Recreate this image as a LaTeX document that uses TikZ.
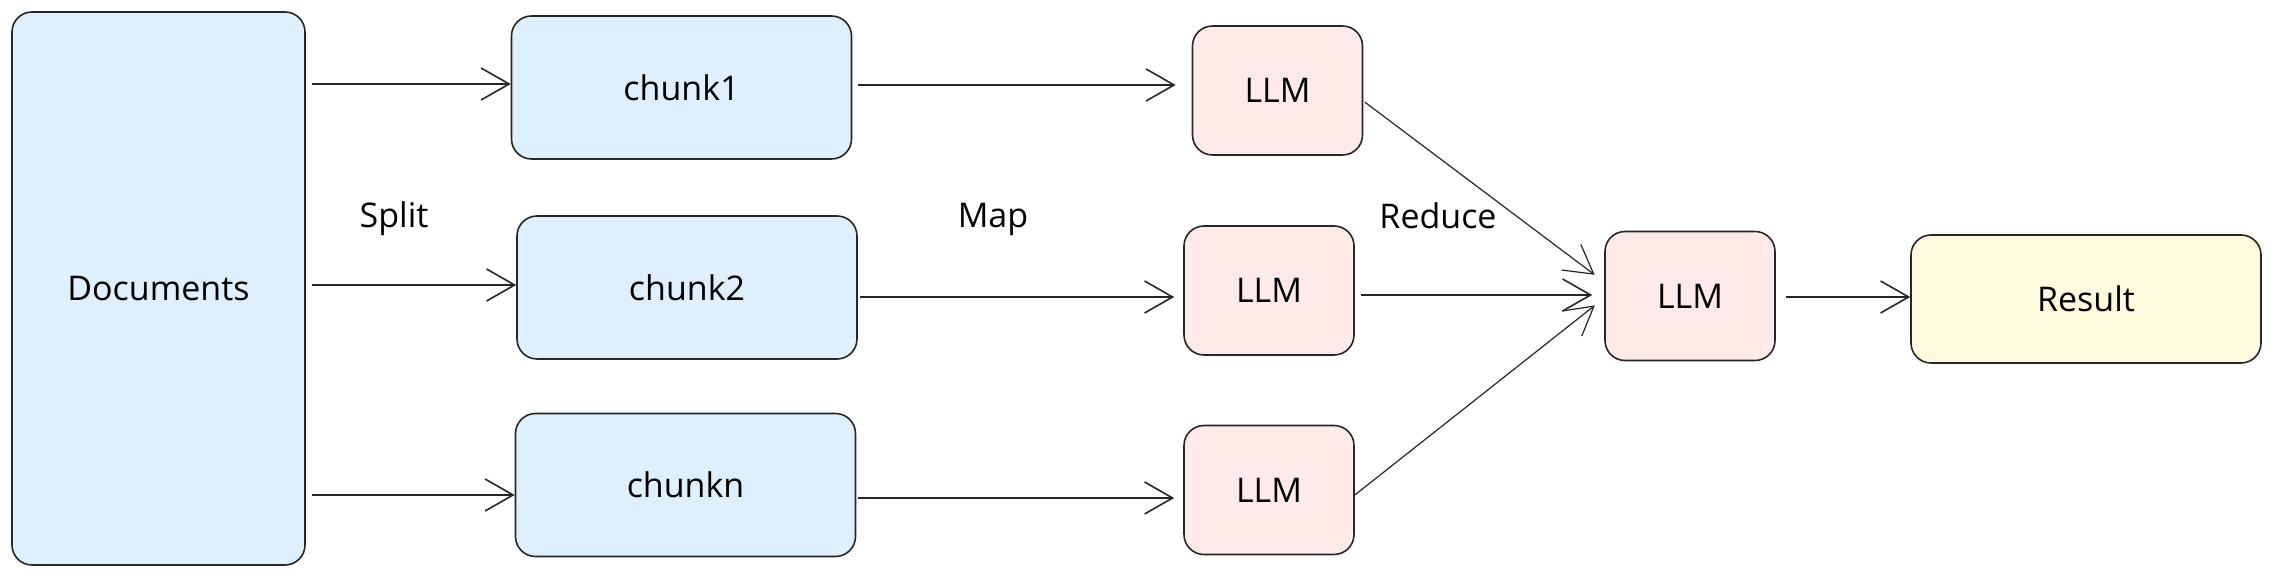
\documentclass[tikz,border=0pt]{standalone}
\usepackage{fontspec}
\setmainfont{Open Sans}
\usepackage{tikz}
\usetikzlibrary{arrows.meta}

\definecolor{docblue}{RGB}{222,240,254}
\definecolor{llmpink}{RGB}{255,234,234}
\definecolor{resyellow}{RGB}{255,249,222}

\begin{document}
\begin{tikzpicture}[x=0.5pt, y=-0.5pt, every node/.style={font=\fontsize{17}{20}\selectfont},
	>={Straight Barb[length=14pt, width=16pt]},
	box/.style={draw=black!85, line width=0.8pt, rounded corners=10pt, align=center, inner sep=0pt},
	chunkbox/.style={box, fill=docblue, minimum width=170pt, minimum height=71.5pt},
	llmbox/.style={box, fill=llmpink, minimum width=85pt, minimum height=64.5pt},
	flow/.style={->, draw=black!85, line width=0.8pt}]
	\useasboundingbox (0,0) rectangle (2270,576);
	% boxes
	\node[box, fill=docblue, minimum width=146.5pt, minimum height=276.5pt] (docs) at (158.5,288.5) {Documents};
	\node[chunkbox] (chunk1) at (681.5,87.5) {chunk1};
	\node[chunkbox] (chunk2) at (687,287.5) {chunk2};
	\node[chunkbox] (chunkn) at (685.5,485) {chunkn};
	\node[llmbox] (llm1) at (1277.5,90.5) {LLM};
	\node[llmbox] (llm2) at (1269,290.5) {LLM};
	\node[llmbox] (llm3) at (1269,490) {LLM};
	\node[llmbox] (llm4) at (1690,296) {LLM};
	\node[box, fill=resyellow, minimum width=175pt, minimum height=64pt] (result) at (2086,299) {Result};
	% labels
	\node (split) at (394,219) {Split};
	\node (map) at (993,219) {Map};
	\node (reduce) at (1438,216) {Reduce};
	% split
	\draw[flow, shorten <=3pt] (docs.east |- 0,84) -- (chunk1.west |- 0,84);
	\draw[flow, shorten <=3pt] (docs.east |- 0,285) -- (chunk2.west |- 0,285);
	\draw[flow, shorten <=3pt] (docs.east |- 0,495) -- (chunkn.west |- 0,495);
	% map
	\draw[flow, shorten <=3pt, shorten >=8pt] (chunk1.east |- 0,85) -- (llm1.west |- 0,85);
	\draw[flow, shorten <=1pt, shorten >=4.5pt] (chunk2.east |- 0,297) -- (llm2.west |- 0,297);
	\draw[flow, shorten <=1pt, shorten >=4.5pt] (chunkn.east |- 0,498) -- (llm3.west |- 0,498);
	% reduce
	\draw[flow, line width=0.6pt, shorten <=1pt, shorten >=6pt] (llm1.east |- 0,101) -- (llm4.west |- 0,282);
	\draw[flow, shorten <=3pt, shorten >=6pt] (llm2.east |- 0,295) -- (llm4.west |- 0,295);
	\draw[flow, line width=0.6pt, shorten >=6pt] (llm3.east |- 0,495) -- (llm4.west |- 0,298);
	\draw[flow, shorten <=5pt] (llm4.east |- 0,297) -- (result.west |- 0,297);
\end{tikzpicture}
\end{document}
